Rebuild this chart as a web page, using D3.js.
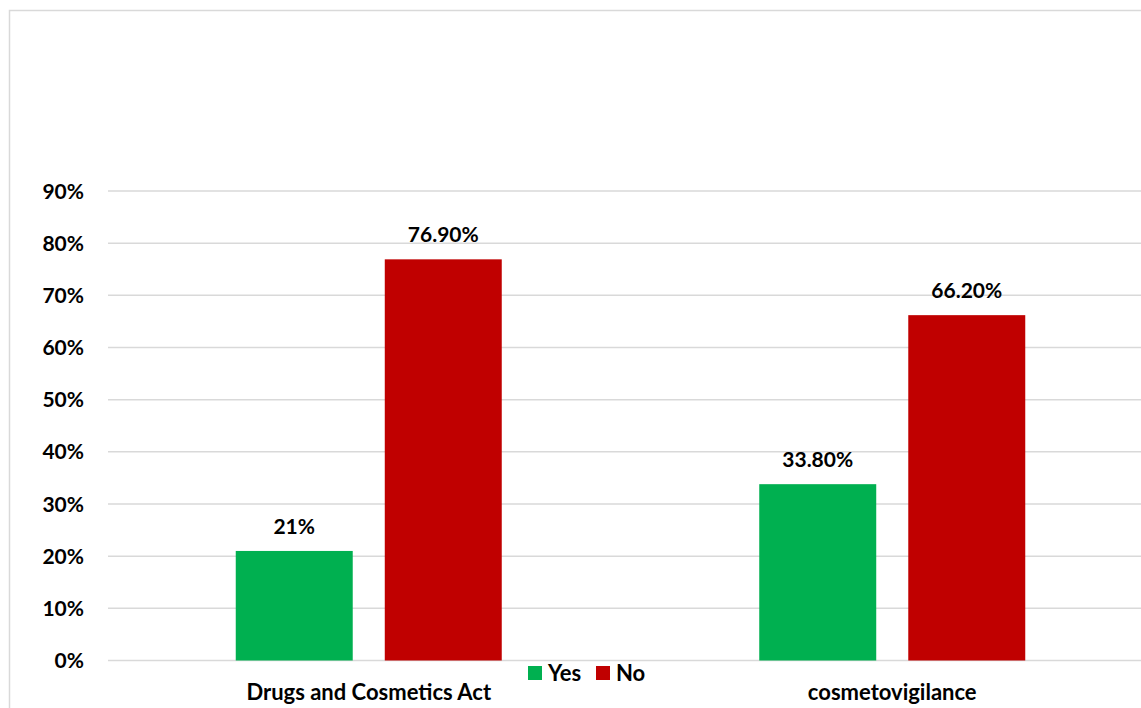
<!DOCTYPE html>
<html>
<head>
<meta charset="utf-8">
<script src="https://cdn.jsdelivr.net/npm/d3@7"></script>
<style>
  html, body { margin: 0; padding: 0; background: #fff; }
  svg { display: block; }
  text { font-family: Lato, "Open Sans", sans-serif; font-weight: 700; fill: #000; }
</style>
</head>
<body>
<svg id="chart" width="1141" height="708"></svg>
<script>
const categories = ["Drugs and Cosmetics Act", "cosmetovigilance"];
const series = ["Yes", "No"];
const yesValues = [0.21, 0.338];
const noValues = [0.769, 0.662];
const yesLabels = ["21%", "33.80%"];
const noLabels = ["76.90%", "66.20%"];
const yTicks = [0, 0.1, 0.2, 0.3, 0.4, 0.5, 0.6, 0.7, 0.8, 0.9];
const colors = { Yes: "#00b050", No: "#c00000" };

const svg = d3.select("#chart");

// chart area border (left and top visible)
svg.append("path")
  .attr("d", "M9.5,720 L9.5,10.5 L1160,10.5")
  .attr("fill", "none").attr("stroke", "#d9d9d9").attr("stroke-width", 1.5);

const plotLeft = 107, plotRight = 1154;
const y = d3.scaleLinear().domain([0, 0.9]).range([660.5, 191]);
const x0 = d3.scaleBand().domain(categories).range([plotLeft, plotRight]).padding(0);
const groupW = x0.bandwidth() * 266 / 523.5;
const x1 = d3.scaleBand().domain(series).range([0, groupW]).paddingInner(0.215).paddingOuter(0);

// gridlines
svg.append("g").selectAll("line").data(yTicks).join("line")
  .attr("x1", 108).attr("x2", 1141)
  .attr("y1", d => y(d)).attr("y2", d => y(d))
  .attr("stroke", "#d9d9d9").attr("stroke-width", 1.5);

// y tick labels
svg.append("g").selectAll("text").data(yTicks).join("text")
  .attr("x", 84).attr("y", d => y(d))
  .attr("dy", "0.36em")
  .attr("text-anchor", "end")
  .style("font-size", "21px")
  .text(d => d3.format(".0%")(d));

const rows = categories.map((c, i) => ({
  cat: c,
  bars: [
    { s: "Yes", v: yesValues[i], label: yesLabels[i] },
    { s: "No", v: noValues[i], label: noLabels[i] }
  ]
}));

const groups = svg.append("g").selectAll("g").data(rows).join("g")
  .attr("transform", d => `translate(${x0(d.cat) + (x0.bandwidth() - groupW) / 2},0)`);

groups.selectAll("rect").data(d => d.bars).join("rect")
  .attr("x", d => x1(d.s))
  .attr("width", x1.bandwidth())
  .attr("y", d => y(d.v))
  .attr("height", d => y(0) - y(d.v))
  .attr("fill", d => colors[d.s]);

groups.selectAll("text.lbl").data(d => d.bars).join("text")
  .attr("class", "lbl")
  .attr("x", d => x1(d.s) + x1.bandwidth() / 2)
  .attr("y", d => y(d.v) - 25)
  .attr("dy", "0.36em")
  .attr("text-anchor", "middle")
  .style("font-size", "21px")
  .text(d => d.label);

// category labels
svg.append("g").selectAll("text").data(categories).join("text")
  .attr("x", d => x0(d) + x0.bandwidth() / 2)
  .attr("y", 692)
  .attr("dy", "0.36em")
  .attr("text-anchor", "middle")
  .style("font-size", "22px")
  .text(d => d);

// legend
const legendItems = [{ s: "Yes", x: 528 }, { s: "No", x: 596 }];
const lg = svg.append("g").selectAll("g").data(legendItems).join("g")
  .attr("transform", d => `translate(${d.x},666)`);
lg.append("rect").attr("width", 14).attr("height", 14).attr("fill", d => colors[d.s]);
lg.append("text").attr("x", 20).attr("y", 7).attr("dy", "0.36em")
  .style("font-size", "22px").text(d => d.s);
</script>
</body>
</html>
